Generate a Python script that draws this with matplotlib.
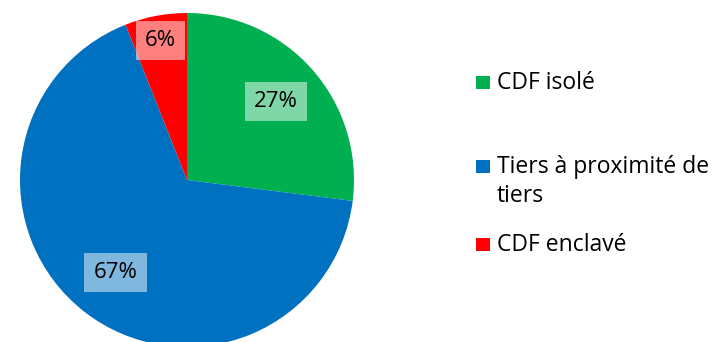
import numpy as np
import matplotlib.pyplot as plt
from matplotlib.patches import Rectangle

plt.rcParams["font.family"] = ["Open Sans", "DejaVu Sans"]

# parts en pourcentage
categories = ["CDF isolé", "Tiers à proximité de\ntiers", "CDF enclavé"]
valeurs = [27, 67, 6]
couleurs = ["#00B050", "#0070C0", "#FF0000"]
dist_etiquettes = [0.71, 0.70, 0.85]

W, H = 715, 342
fig = plt.figure(figsize=(W / 100, H / 100), dpi=100)

# camembert : centre (187, 180) px, rayon 167 px
cx, cy, r = 187, 180, 167
ax = fig.add_axes([(cx - r) / W, (H - cy - r) / H, 2 * r / W, 2 * r / H])
wedges, _ = ax.pie(valeurs, colors=couleurs, startangle=90, counterclock=False,
                   radius=1, wedgeprops=dict(linewidth=0))
ax.set_xlim(-1, 1)
ax.set_ylim(-1, 1)
ax.set_aspect("equal")
ax.axis("off")

for w, v, d in zip(wedges, valeurs, dist_etiquettes):
    ang = np.deg2rad((w.theta1 + w.theta2) / 2)
    ax.text(d * np.cos(ang), d * np.sin(ang), f"{v}%", ha="center", va="center",
            fontsize=16, color="black",
            bbox=dict(boxstyle="square,pad=0.42", fc="white", ec="none", alpha=0.5))

# légende à droite (carré sur la 1re ligne, texte ancré sur la dernière)
carre_y = [89, 173, 251]
texte_y = [89, 202, 251]
for lab, col, yc, yt in zip(categories, couleurs, carre_y, texte_y):
    fig.patches.append(Rectangle((476 / W, (H - yc) / H), 14 / W, 13 / H,
                                 transform=fig.transFigure, fc=col, ec="none"))
    fig.text(497 / W, (H - yt) / H, lab, ha="left", va="baseline",
             fontsize=16.5, linespacing=1.3, color="black")

fig.savefig("out.png", dpi=100)
